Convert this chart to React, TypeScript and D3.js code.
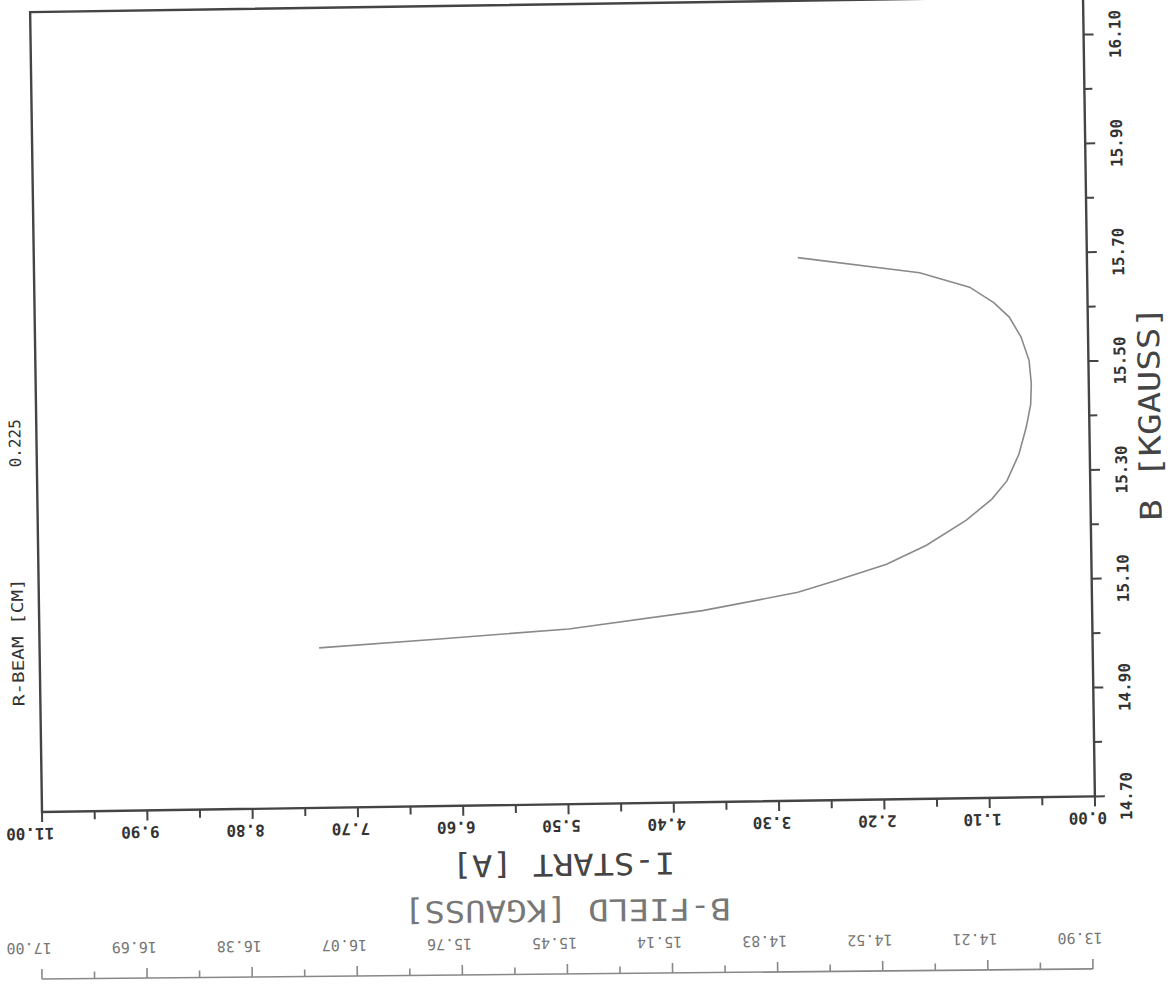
import React from 'react';
import * as d3 from 'd3';

// I-START [A] axis (bottom, printed upside down)
const iStartTicks = [11.0, 9.9, 8.8, 7.7, 6.6, 5.5, 4.4, 3.3, 2.2, 1.1, 0.0];
const iStartLabels = ['11.00', '9.90', '8.80', '7.70', '6.60', '5.50', '4.40', '3.30', '2.20', '1.10', '0.00'];

// B [KGAUSS] axis (right)
const bTicks = [14.7, 14.9, 15.1, 15.3, 15.5, 15.7, 15.9, 16.1];
const bLabels = ['14.70', '14.90', '15.10', '15.30', '15.50', '15.70', '15.90', '16.10'];
const bMinor = [14.8, 15.0, 15.2, 15.4, 15.6, 15.8, 16.0];

// B-FIELD [KGAUSS] secondary scale (very bottom)
const bFieldTicks = [17.0, 16.69, 16.38, 16.07, 15.76, 15.45, 15.14, 14.83, 14.52, 14.21, 13.9];
const bFieldLabels = ['17.00', '16.69', '16.38', '16.07', '15.76', '15.45', '15.14', '14.83', '14.52', '14.21', '13.90'];

// R-BEAM = 0.225 contour
const curveIStart = [3.02, 1.75, 1.23, 0.98, 0.82, 0.70, 0.62, 0.60, 0.61, 0.66, 0.74, 0.87, 1.03, 1.30, 1.72, 2.14, 2.66, 3.07, 4.07, 5.47, 6.82, 8.08];
const curveB = [15.698, 15.667, 15.639, 15.610, 15.583, 15.546, 15.503, 15.460, 15.422, 15.380, 15.331, 15.282, 15.249, 15.211, 15.166, 15.132, 15.104, 15.083, 15.052, 15.022, 15.007, 14.994];

const W = 1053;
const H = 800;
const FONT = '"DejaVu Sans Mono", monospace';

export default function App() {
  const x = d3.scaleLinear().domain([11, 0]).range([0, W]);
  const y = d3.scaleLinear().domain([14.7, 16.17]).range([H, 0]);
  const x2 = d3.scaleLinear().domain([17.0, 13.9]).range([0, 1051]);

  const iMinor = d3.pairs(iStartTicks).map(([a, b]) => (a + b) / 2);
  const bfMinor = d3.pairs(bFieldTicks).map(([a, b]) => (a + b) / 2);

  const pts = curveIStart.map((v, i) => [v, curveB[i]] as [number, number]);
  const line = d3.line<[number, number]>()
    .x(d => x(d[0]))
    .y(d => y(d[1]));

  return (
    <div style={{ position: 'fixed', left: 0, top: 0, background: '#fff' }}>
      <svg width={1169} height={990} style={{ display: 'block' }}>
        <rect width={1169} height={990} fill="#fff" />
        <g transform="translate(42,812) rotate(-0.85) translate(0,-800)">
          {/* frame */}
          <rect x={0} y={0} width={W} height={H} fill="none" stroke="#444" strokeWidth={2.4} />

          {/* bottom ticks */}
          {iStartTicks.map((v, i) => (
            <line key={'it' + i} x1={x(v)} x2={x(v)} y1={H} y2={H + 10} stroke="#444" strokeWidth={2} />
          ))}
          {iMinor.map((v, i) => (
            <line key={'im' + i} x1={x(v)} x2={x(v)} y1={H} y2={H + 8} stroke="#444" strokeWidth={2} />
          ))}
          {iStartTicks.map((v, i) => (
            <text key={'il' + i} transform={`translate(${x(v) + 12},${H + 16}) rotate(180)`}
              fontFamily={FONT} fontSize={16} fontWeight="bold" fill="#333">
              {iStartLabels[i]}
            </text>
          ))}
          <text transform={`translate(${W / 2 - 6},${H + 50}) rotate(180)`} textAnchor="middle"
            fontFamily={FONT} fontSize={30} fill="#444" textLength={223} lengthAdjust="spacingAndGlyphs">
            I-START [A]
          </text>

          {/* right ticks */}
          {bTicks.map((v, i) => (
            <line key={'bt' + i} x1={W} x2={W + 10} y1={y(v)} y2={y(v)} stroke="#444" strokeWidth={2} />
          ))}
          {bMinor.map((v, i) => (
            <line key={'bm' + i} x1={W} x2={W + 8} y1={y(v)} y2={y(v)} stroke="#444" strokeWidth={2} />
          ))}
          {bTicks.map((v, i) => (
            <text key={'bl' + i} transform={`translate(${W + 37},${y(v)}) rotate(-90)`} textAnchor="middle"
              fontFamily={FONT} fontSize={16} fontWeight="bold" fill="#333">
              {bLabels[i]}
            </text>
          ))}
          <text transform={`translate(${W + 71},${H / 2 + 18}) rotate(-90)`} textAnchor="middle"
            fontFamily={FONT} fontSize={30} fill="#444" textLength={215} lengthAdjust="spacingAndGlyphs">
            B [KGAUSS]
          </text>

          {/* left annotations */}
          <text transform={`translate(-16,431) rotate(-90)`} textAnchor="middle"
            fontFamily={FONT} fontSize={16} fill="#333">
            0.225
          </text>
          <text transform={`translate(-16,630) rotate(-90)`} textAnchor="middle"
            fontFamily={FONT} fontSize={16} fill="#333" textLength={128} lengthAdjust="spacingAndGlyphs">
            R-BEAM [CM]
          </text>

          {/* contour */}
          <path d={line(pts) ?? ''} fill="none" stroke="#8a8a8a" strokeWidth={1.6} />
        </g>

        {/* secondary B-FIELD scale */}
        <g transform="translate(42,979) rotate(-0.55)">
          <line x1={0} x2={1051} y1={0} y2={0} stroke="#888" strokeWidth={1.6} />
          {bFieldTicks.map((v, i) => (
            <line key={'ft' + i} x1={x2(v)} x2={x2(v)} y1={0} y2={-10} stroke="#888" strokeWidth={1.6} />
          ))}
          {bfMinor.map((v, i) => (
            <line key={'fm' + i} x1={x2(v)} x2={x2(v)} y1={0} y2={-7} stroke="#888" strokeWidth={1.6} />
          ))}
          {bFieldTicks.map((v, i) => (
            <text key={'fl' + i} transform={`translate(${x2(v) + 10},-36) rotate(180)`}
              fontFamily={FONT} fontSize={15} fill="#777">
              {bFieldLabels[i]}
            </text>
          ))}
          <text transform={`translate(526,-74) rotate(180)`} textAnchor="middle"
            fontFamily={FONT} fontSize={30} fill="#777" textLength={327} lengthAdjust="spacingAndGlyphs">
            B-FIELD [KGAUSS]
          </text>
        </g>
      </svg>
    </div>
  );
}
